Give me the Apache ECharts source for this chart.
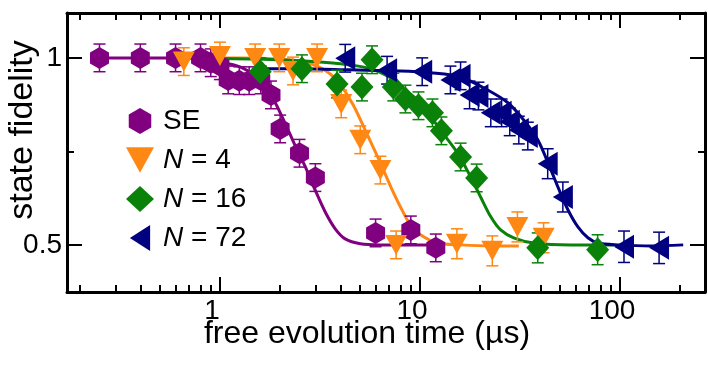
<!DOCTYPE html>
<html>
<head>
<meta charset="utf-8">
<script src="https://cdn.jsdelivr.net/npm/echarts@6/dist/echarts.min.js"></script>
<style>
  html, body { margin: 0; padding: 0; background: #fff; }
  #main { width: 708px; height: 366px; }
</style>
</head>
<body>
<div id="main"></div>
<script>
// measured points (time in us, state fidelity, error bar half-height)
const seTime = [0.25, 0.4, 0.6, 0.8, 0.9, 1.0, 1.1, 1.25, 1.4, 1.6, 1.8, 2.0, 2.5, 3.0, 6.0, 9.0, 12.0];
const seFid  = [1.0, 1.0, 1.0, 1.0, 0.987, 0.979, 0.941, 0.939, 0.939, 0.941, 0.901, 0.81, 0.745, 0.68, 0.532, 0.54, 0.492];
const seErr  = [0.037, 0.037, 0.037, 0.037, 0.037, 0.037, 0.037, 0.037, 0.037, 0.037, 0.037, 0.037, 0.037, 0.037, 0.037, 0.037, 0.037];

const n4Time = [0.66, 1.0, 1.5, 1.98, 2.32, 3.06, 4.04, 5.03, 6.34, 7.6, 15.3, 23.0, 30.7, 41.5];
const n4Fid  = [0.99, 1.005, 1.0, 1.0, 0.965, 1.0, 0.877, 0.781, 0.70, 0.50, 0.503, 0.484, 0.548, 0.519];
const n4Err  = [0.037, 0.037, 0.037, 0.037, 0.037, 0.037, 0.037, 0.037, 0.037, 0.037, 0.04, 0.04, 0.04, 0.04];

const n16Time = [1.59, 2.57, 3.85, 5.13, 5.76, 7.36, 8.46, 9.83, 11.55, 12.8, 15.96, 19.2, 38.8, 77.3];
const n16Fid  = [0.963, 0.971, 0.930, 0.922, 0.995, 0.922, 0.890, 0.872, 0.853, 0.805, 0.735, 0.679, 0.492, 0.487];
const n16Err  = [0.037, 0.037, 0.037, 0.037, 0.037, 0.037, 0.037, 0.037, 0.037, 0.037, 0.037, 0.037, 0.04, 0.04];

const n72Time = [4.23, 6.85, 10.26, 14.2, 15.96, 17.7, 19.6, 22.6, 25.6, 28.1, 31.2, 34.6, 43.5, 51.8, 104.7, 156.8];
const n72Fid  = [0.999, 0.967, 0.963, 0.941, 0.952, 0.901, 0.898, 0.853, 0.853, 0.829, 0.807, 0.791, 0.717, 0.628, 0.495, 0.492];
const n72Err  = [0.037, 0.037, 0.037, 0.037, 0.037, 0.037, 0.037, 0.037, 0.037, 0.037, 0.037, 0.037, 0.04, 0.04, 0.042, 0.042];

// fit curves
const seFitTime = [0.25, 0.63, 0.794, 1.0, 1.26, 1.5, 1.68, 1.89, 2.12, 2.38, 2.67, 2.99, 3.36, 3.77, 4.23, 5.03, 6.33, 8.95, 12.7];
const seFitFid  = [1.0, 1.0, 0.997, 0.989, 0.976, 0.952, 0.922, 0.880, 0.824, 0.765, 0.709, 0.647, 0.588, 0.543, 0.516, 0.503, 0.5, 0.5, 0.5];

const n4FitTime = [0.66, 1.26, 2.0, 2.73, 3.44, 4.0, 4.64, 5.46, 6.34, 7.11, 7.98, 8.96, 10.06, 12.2, 15.96, 22.6, 31.2];
const n4FitFid  = [1.0, 1.0, 0.997, 0.987, 0.963, 0.928, 0.874, 0.794, 0.719, 0.658, 0.602, 0.553, 0.527, 0.505, 0.5, 0.497, 0.497];

const n16FitTime = [0.595, 1.41, 2.52, 4.0, 5.65, 7.11, 8.46, 10.06, 12.67, 15.4, 17.9, 20.1, 22.6, 25.3, 29.4, 37.1, 56.8, 93.3];
const n16FitFid  = [1.0, 0.997, 0.992, 0.984, 0.971, 0.947, 0.914, 0.880, 0.807, 0.746, 0.682, 0.628, 0.575, 0.540, 0.519, 0.505, 0.5, 0.5];

const n72FitTime = [1.46, 2.52, 4.48, 7.98, 11.3, 15.96, 21.8, 27.5, 33.0, 38.8, 45.1, 48.9, 54.9, 61.6, 69.1, 77.6, 97.6, 143, 207];
const n72FitFid  = [0.971, 0.971, 0.968, 0.965, 0.960, 0.949, 0.914, 0.880, 0.834, 0.781, 0.701, 0.655, 0.594, 0.548, 0.519, 0.505, 0.5, 0.497, 0.5];

const names = ['SE', 'N = 4', 'N = 16', 'N = 72'];
const colors = ['#800080', '#ff8714', '#0a820a', '#000080'];

const majorX = [1, 10, 100];
const minorX = [0.2, 0.3, 0.4, 0.5, 0.6, 0.7, 0.8, 0.9, 2, 3, 4, 5, 6, 7, 8, 9, 20, 30, 40, 50, 60, 70, 80, 90, 200];
const majorY = [0.5, 1];
const minorY = [0.75];

const hexagon = 'path://M0,-10 L8.66,-5 L8.66,5 L0,10 L-8.66,5 L-8.66,-5 Z';
const downTri = 'path://M0,0 L22,0 L11,20 Z';
const leftTri = 'path://M0,13.5 L21,0 L21,27 Z';

const zip = (a, b, c) => a.map((v, i) => c ? [v, b[i], c[i]] : [v, b[i]]);

const points = [
  zip(seTime, seFid, seErr),
  zip(n4Time, n4Fid, n4Err),
  zip(n16Time, n16Fid, n16Err),
  zip(n72Time, n72Fid, n72Err)
];
const fits = [
  zip(seFitTime, seFitFid),
  zip(n4FitTime, n4FitFid),
  zip(n16FitTime, n16FitFid),
  zip(n72FitTime, n72FitFid)
];
const markers = [
  { symbol: hexagon, symbolSize: [19, 22] },
  { symbol: downTri, symbolSize: [22, 20] },
  { symbol: 'diamond', symbolSize: [23, 25] },
  { symbol: leftTri, symbolSize: [20, 24] }
];

const xRange = { min: 0.172, max: 266 };
const yRange = { min: 0.374, max: 1.12 };
const font = 'Liberation Sans';

const xAxisBase = (pos, len, ticks, line) => ({
  type: 'log',
  logBase: 10,
  position: pos,
  min: xRange.min,
  max: xRange.max,
  axisLine: { show: line, onZero: false, lineStyle: { color: '#000', width: 3 } },
  axisTick: { show: true, inside: true, length: len, customValues: ticks, lineStyle: { color: '#000', width: 2 } },
  axisLabel: { show: false },
  splitLine: { show: false }
});
const yAxisBase = (pos, len, ticks, line) => ({
  type: 'value',
  position: pos,
  min: yRange.min,
  max: yRange.max,
  axisLine: { show: line, onZero: false, lineStyle: { color: '#000', width: 3 } },
  axisTick: { show: true, inside: true, length: len, customValues: ticks, lineStyle: { color: '#000', width: 2 } },
  axisLabel: { show: false },
  splitLine: { show: false }
});

const xMain = xAxisBase('bottom', 15, majorX, true);
xMain.axisLabel = {
  show: true, customValues: majorX, margin: 5,
  color: '#000', fontFamily: font, fontSize: 28,
  padding: [0, 16, 0, 0],
  formatter: v => String(Math.round(v))
};
const yMain = yAxisBase('left', 15, majorY, true);
yMain.axisLabel = {
  show: true, customValues: majorY, margin: 5,
  color: '#000', fontFamily: font, fontSize: 28,
  formatter: v => String(v)
};

const errorSeries = (i) => ({
  type: 'custom',
  name: names[i] + ' err',
  xAxisIndex: 0,
  yAxisIndex: 0,
  z: 2,
  silent: true,
  data: points[i],
  renderItem: (params, api) => {
    const t = api.value(0), f = api.value(1), e = api.value(2);
    const lo = api.coord([t, f - e]);
    const hi = api.coord([t, f + e]);
    const w = 6;
    const style = { stroke: colors[i], lineWidth: 1.5 };
    return {
      type: 'group',
      children: [
        { type: 'line', shape: { x1: lo[0], y1: lo[1], x2: hi[0], y2: hi[1] }, style },
        { type: 'line', shape: { x1: lo[0] - w, y1: lo[1], x2: lo[0] + w, y2: lo[1] }, style },
        { type: 'line', shape: { x1: hi[0] - w, y1: hi[1], x2: hi[0] + w, y2: hi[1] }, style }
      ]
    };
  }
});

const series = [];
fits.forEach((d, i) => {
  series.push({
    type: 'line',
    name: names[i] + ' fit',
    data: d,
    smooth: 0.3,
    showSymbol: false,
    silent: true,
    z: 1,
    lineStyle: { color: colors[i], width: 3 }
  });
});
points.forEach((d, i) => {
  series.push(errorSeries(i));
  series.push({
    type: 'scatter',
    name: names[i],
    data: d.map(p => [p[0], p[1]]),
    symbol: markers[i].symbol,
    symbolSize: markers[i].symbolSize,
    z: 3,
    itemStyle: { color: colors[i], opacity: 1 }
  });
});

const chart = echarts.init(document.getElementById('main'), null, { renderer: 'canvas' });
chart.setOption({
  animation: false,
  backgroundColor: '#fff',
  grid: { left: 67, right: 3, top: 13, bottom: 74, containLabel: false },
  xAxis: [
    xMain,
    xAxisBase('bottom', 7, minorX, false),
    xAxisBase('top', 15, majorX, true),
    xAxisBase('top', 7, minorX, false)
  ],
  yAxis: [
    yMain,
    yAxisBase('left', 7, minorY, false),
    yAxisBase('right', 15, majorY, true),
    yAxisBase('right', 7, minorY, false)
  ],
  legend: {
    orient: 'vertical',
    left: 121,
    top: 102,
    itemWidth: 28,
    itemHeight: 26,
    itemGap: 11,
    data: [
      { name: 'SE', icon: hexagon },
      { name: 'N = 4', icon: downTri },
      { name: 'N = 16', icon: 'diamond' },
      { name: 'N = 72', icon: leftTri }
    ],
    formatter: name => name === 'SE' ? 'SE' : '{i|N}' + name.slice(1),
    textStyle: {
      color: '#000', fontFamily: font, fontSize: 28, padding: [0, 0, 0, 4],
      rich: { i: { fontStyle: 'italic', fontFamily: font, fontSize: 28, color: '#000' } }
    }
  },
  graphic: [
    {
      type: 'text', x: 367, y: 334,
      style: { text: 'free evolution time (\u00b5s)', font: '32px "Liberation Sans"', fill: '#000', textAlign: 'center', textVerticalAlign: 'middle' }
    },
    {
      type: 'text', x: 23, y: 130, rotation: Math.PI / 2,
      style: { text: 'state fidelity', font: '34px "Liberation Sans"', fill: '#000', textAlign: 'center', textVerticalAlign: 'middle' }
    }
  ],
  series: series
});
</script>
</body>
</html>
